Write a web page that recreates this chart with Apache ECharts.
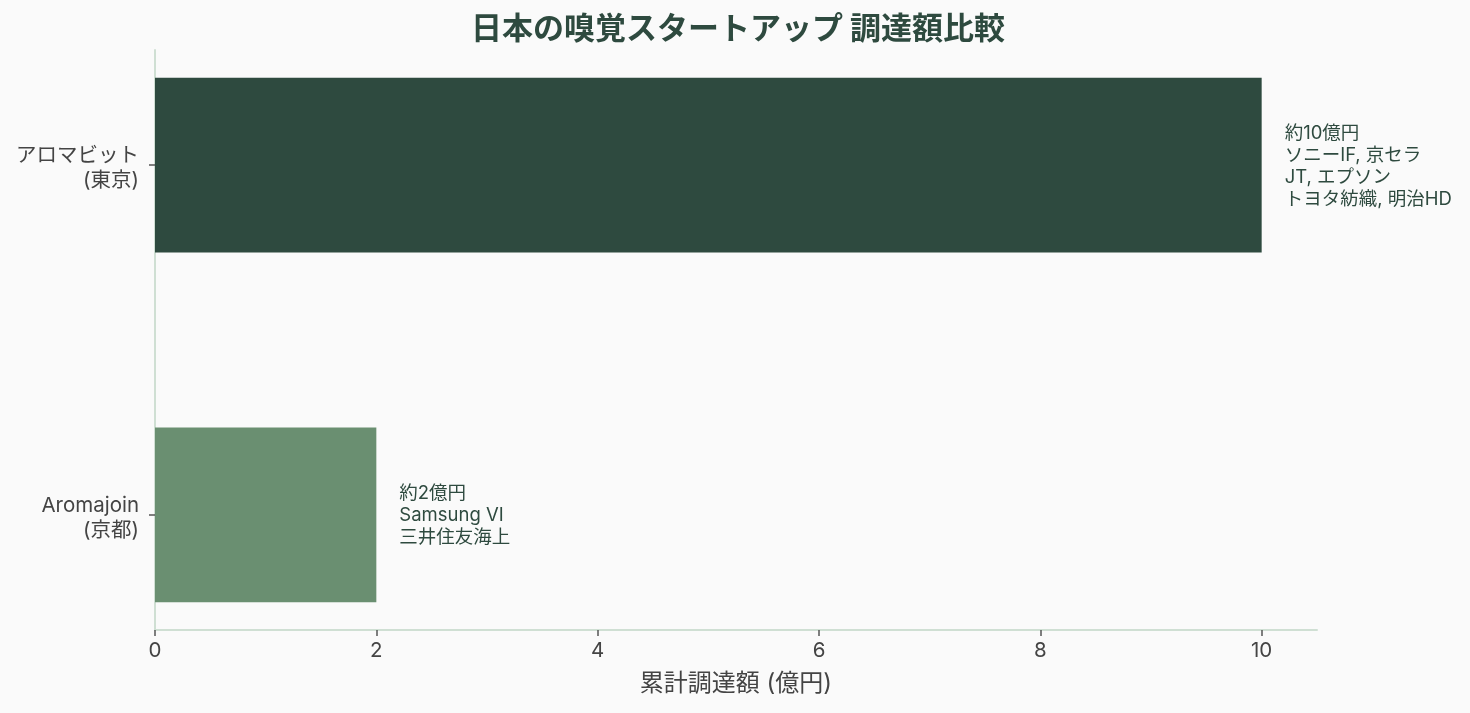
<!DOCTYPE html>
<html>
<head>
<meta charset="utf-8">
<script src="https://cdn.jsdelivr.net/npm/echarts@6/dist/echarts.min.js"></script>
<style>
  html, body { margin: 0; padding: 0; background: #fafafa; }
  #main { width: 1470px; height: 713px; }
</style>
</head>
<body>
<div id="main"></div>
<script>
// companies from bottom (0) to top (1)
const companies = ['Aromajoin\n(京都)', 'アロマビット\n(東京)'];
const funding = [2, 10];  // 億円
const notes = [
  '約2億円\nSamsung VI\n三井住友海上',
  '約10億円\nソニーIF, 京セラ\nJT, エプソン\nトヨタ紡織, 明治HD'
];
const barColors = ['#6a8f71', '#2e4a3f'];
const xTicks = [0, 2, 4, 6, 8, 10];

const font = 'Inter, "Noto Sans CJK JP", sans-serif';
const titleFont = '"Noto Sans CJK JP", sans-serif';
const myChart = echarts.init(document.getElementById('main'));

const option = {
  backgroundColor: '#fafafa',
  animation: false,
  title: {
    text: '日本の嗅覚スタートアップ 調達額比較',
    left: 733,
    textAlign: 'center',
    top: 7,
    textStyle: { fontFamily: titleFont, fontSize: 31, fontWeight: 'bold', color: '#2e4a3f' }
  },
  grid: { left: 155, right: 153, top: 50, bottom: 83 },
  xAxis: {
    type: 'value',
    min: 0,
    max: 10.5,
    name: '累計調達額 (億円)',
    nameLocation: 'middle',
    nameGap: 42,
    nameTextStyle: { fontFamily: font, fontSize: 24, color: '#444' },
    splitLine: { show: false },
    axisLine: { show: true, onZero: false, lineStyle: { color: '#cfdfd3', width: 2 } },
    axisTick: { show: true, customValues: xTicks, length: 6, lineStyle: { color: '#555', width: 1.5 } },
    axisLabel: { customValues: xTicks, fontFamily: font, fontSize: 20.5, color: '#444', margin: 11 }
  },
  yAxis: {
    type: 'value',
    min: -0.329,
    max: 1.329,
    splitLine: { show: false },
    axisLine: { show: true, onZero: false, lineStyle: { color: '#cfdfd3', width: 2 } },
    axisTick: { show: true, customValues: [0, 1], length: 6, lineStyle: { color: '#555', width: 1.5 } },
    axisLabel: {
      // labels sit a little below the tick, like the original
      customValues: [-0.01, 0.99],
      formatter: v => companies[Math.round(v)],
      fontFamily: font,
      fontSize: 20.5,
      lineHeight: 25,
      color: '#444',
      align: 'right',
      margin: 16
    }
  },
  series: [{
    type: 'custom',
    data: funding.map((v, i) => [v, i]),
    encode: { x: 0, y: 1 },
    renderItem: function (params, api) {
      const i = api.value(1);
      const start = api.coord([0, i]);
      const end = api.coord([api.value(0), i]);
      const h = api.size([0, 0.5])[1];
      return {
        type: 'group',
        children: [{
          type: 'rect',
          shape: { x: start[0], y: start[1] - h / 2, width: end[0] - start[0], height: h },
          style: { fill: barColors[i] }
        }, {
          type: 'text',
          x: end[0] + 23,
          y: end[1] + 1,
          style: {
            text: notes[i],
            fontFamily: font,
            fontSize: 18.5,
            lineHeight: 22,
            fill: '#2e4a3f',
            align: 'left',
            verticalAlign: 'middle'
          }
        }]
      };
    }
  }]
};

myChart.setOption(option);
</script>
</body>
</html>
